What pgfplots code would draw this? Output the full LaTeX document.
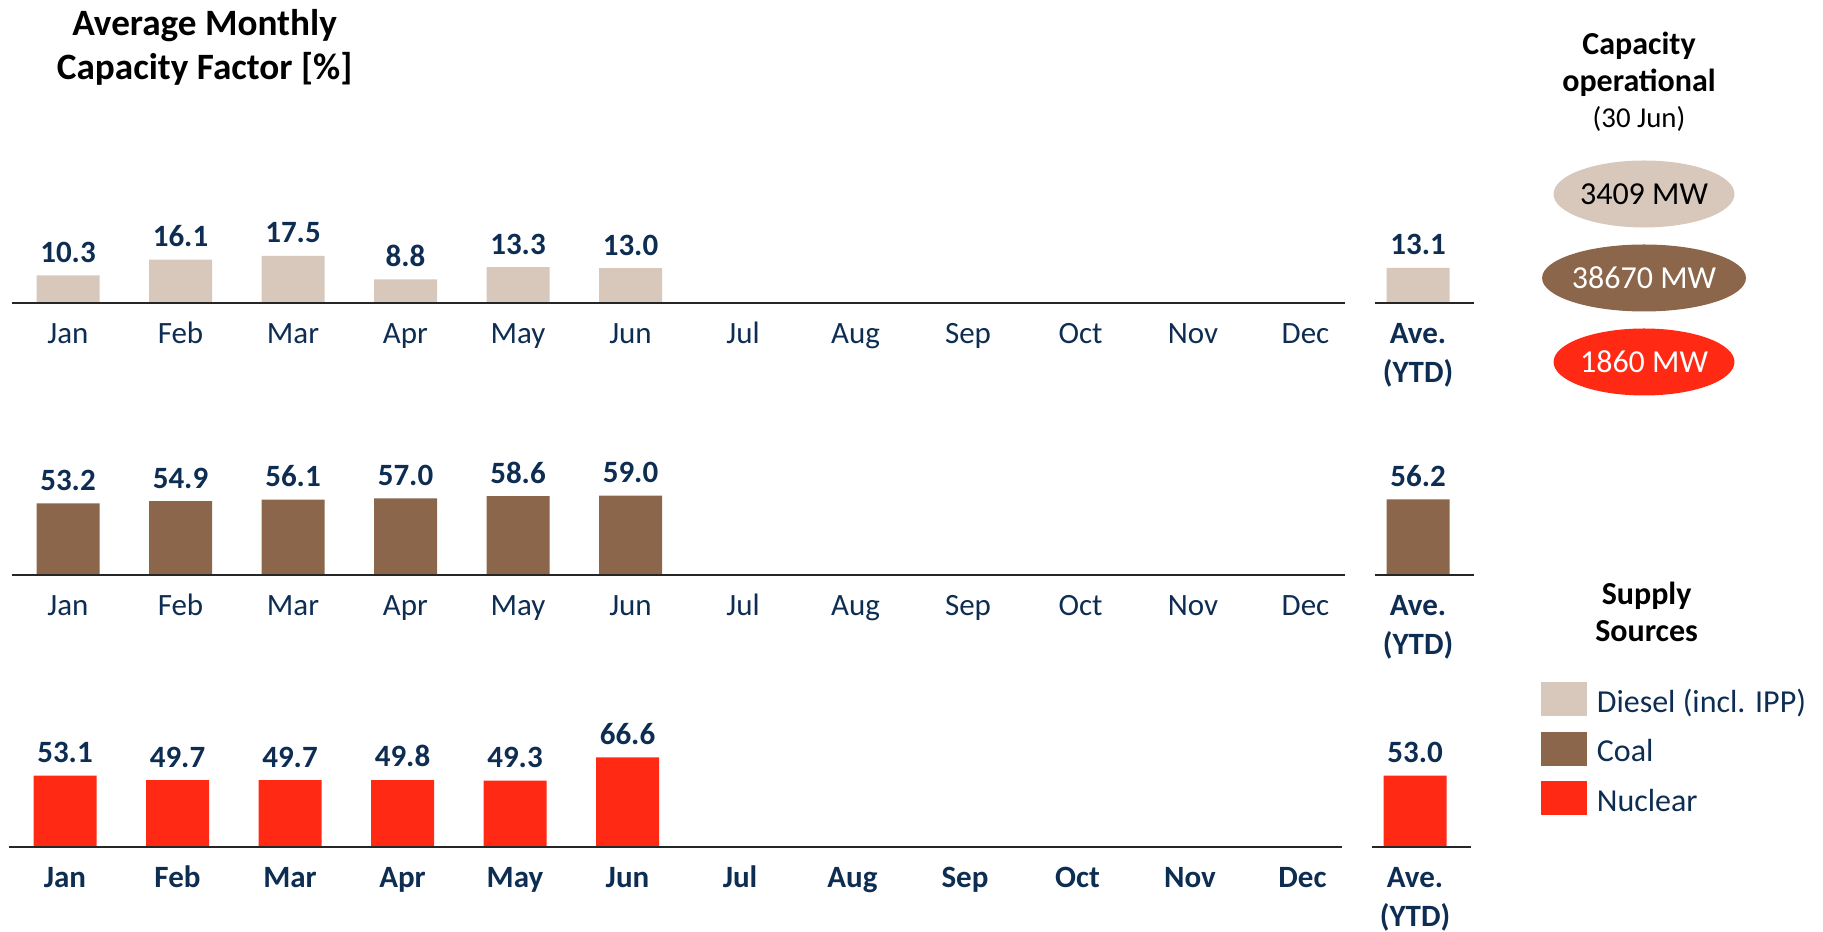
\documentclass[border=0pt]{standalone}
\usepackage{pgfplots}
\pgfplotsset{compat=1.18}
\usetikzlibrary{shapes.geometric}
\usepackage{fontspec}
\setmainfont{Carlito}
\definecolor{diesel}{RGB}{216,199,187}
\definecolor{coal}{RGB}{139,102,74}
\definecolor{nuclear}{RGB}{255,41,20}
\definecolor{navy}{RGB}{14,45,82}
\newcommand{\lblfont}{\fontsize{15.5}{19.7}\selectfont}
\pgfplotsset{
  sq legend/.style={legend image code/.code={\fill[##1] (0pt,-6.2pt) rectangle (23pt,10.8pt);}},
  panel/.style={
    scale only axis, width=731.25pt, height=53.8pt,
    anchor=south west,
    xmin=-0.5, xmax=12.5, ymin=0,
    axis x line*=bottom, axis y line=none,
    x axis line style={draw=none},
    major tick length=0pt,
    xtick={0,...,12},
    ytick=\empty,
    xticklabel style={font=\lblfont, text=navy, anchor=north, inner sep=0pt, align=center, yshift=-6.2pt},
    ybar, bar width=0.56,
    clip=false,
    nodes near coords,
    every node near coord/.append style={font=\lblfont\bfseries, text=navy, anchor=south, inner sep=0pt, yshift=6.2pt},
    /pgf/number format/.cd, fixed, fixed zerofill, precision=1, assume math mode=true,
  },
}
\begin{document}
\begin{tikzpicture}
\useasboundingbox (0,0) rectangle (911.5pt,465.5pt);

% Diesel
\begin{axis}[panel, at={(5.875pt,314pt)}, ymax=40,
  xticklabels={\strut Jan,\strut Feb,\strut Mar,\strut Apr,\strut May,\strut Jun,\strut Jul,\strut Aug,\strut Sep,\strut Oct,\strut Nov,\strut Dec,{\bfseries\strut Ave.\\\bfseries\strut (YTD)}}]
\addplot[fill=diesel, draw=none] coordinates {(0,10.3) (1,16.1) (2,17.5) (3,8.8) (4,13.3) (5,13.0) (12,13.1)};
\draw[line width=1pt, black!85] (axis cs:-0.498,0) -- (axis cs:11.35,0);
\draw[line width=1pt, black!85] (axis cs:11.62,0) -- (axis cs:12.5,0);
\end{axis}

% Coal
\begin{axis}[panel, at={(5.875pt,178pt)}, ymax=80,
  xticklabels={\strut Jan,\strut Feb,\strut Mar,\strut Apr,\strut May,\strut Jun,\strut Jul,\strut Aug,\strut Sep,\strut Oct,\strut Nov,\strut Dec,{\bfseries\strut Ave.\\\bfseries\strut (YTD)}}]
\addplot[fill=coal, draw=none] coordinates {(0,53.2) (1,54.9) (2,56.1) (3,57.0) (4,58.6) (5,59.0) (12,56.2)};
\draw[line width=1pt, black!85] (axis cs:-0.498,0) -- (axis cs:11.35,0);
\draw[line width=1pt, black!85] (axis cs:11.62,0) -- (axis cs:12.5,0);
\end{axis}

% Nuclear
\begin{axis}[panel, at={(4.375pt,42pt)}, ymax=80,
  xticklabel style={font=\lblfont\bfseries},
  xticklabels={\strut Jan,\strut Feb,\strut Mar,\strut Apr,\strut May,\strut Jun,\strut Jul,\strut Aug,\strut Sep,\strut Oct,\strut Nov,\strut Dec,{\bfseries\strut Ave.\\\bfseries\strut (YTD)}},
  legend style={at={(1.0477,1.5335)}, anchor=north west, draw=none, fill=none,
    font=\fontsize{16}{19}\selectfont, text=navy, inner sep=0pt, row sep=5.95pt, column sep=4.7pt,
    nodes={inner sep=0pt, text height=12pt, text depth=4pt}},
  legend cell align=left]
\addlegendimage{fill=diesel, draw=none, sq legend}
\addlegendentry{Diesel (incl. IPP)}
\addlegendimage{fill=coal, draw=none, sq legend}
\addlegendentry{Coal}
\addplot[fill=nuclear, draw=none, sq legend] coordinates {(0,53.1) (1,49.7) (2,49.7) (3,49.8) (4,49.3) (5,66.6) (12,53.0)};
\addlegendentry{Nuclear}
\draw[line width=1pt, black!85] (axis cs:-0.498,0) -- (axis cs:11.35,0);
\draw[line width=1pt, black!85] (axis cs:11.62,0) -- (axis cs:12.5,0);
\end{axis}

% Title
\node[anchor=base, font=\fontsize{18.6}{22}\selectfont\bfseries] at (102.3pt,447.8pt) {Average Monthly};
\node[anchor=base, font=\fontsize{18.6}{22}\selectfont\bfseries] at (102.3pt,425.8pt) {Capacity Factor [\%]};

% Capacity operational
\node[anchor=base, font=\fontsize{16}{19}\selectfont\bfseries] at (819.5pt,438.3pt) {Capacity};
\node[anchor=base, font=\fontsize{16}{19}\selectfont\bfseries] at (819.5pt,419.8pt) {operational};
\node[anchor=base, font=\fontsize{14.4}{17}\selectfont] at (819.5pt,401.8pt) {(30 Jun)};
\node[ellipse, fill=diesel, minimum width=86.5pt, minimum height=33.5pt, inner sep=0pt, font=\fontsize{16}{19}\selectfont, text=black] at (822pt,368.5pt) {3409 MW};
\node[ellipse, fill=coal, minimum width=86.5pt, minimum height=33.5pt, inner sep=0pt, font=\fontsize{16}{19}\selectfont, text=white] at (822pt,326.5pt) {38670 MW};
\node[ellipse, fill=nuclear, minimum width=86.5pt, minimum height=33.5pt, inner sep=0pt, font=\fontsize{16}{19}\selectfont, text=white] at (822pt,284.5pt) {1860 MW};

% Supply sources
\node[anchor=base, font=\fontsize{16}{19}\selectfont\bfseries] at (823.3pt,163.4pt) {Supply};
\node[anchor=base, font=\fontsize{16}{19}\selectfont\bfseries] at (823.3pt,144.8pt) {Sources};
\end{tikzpicture}
\end{document}
